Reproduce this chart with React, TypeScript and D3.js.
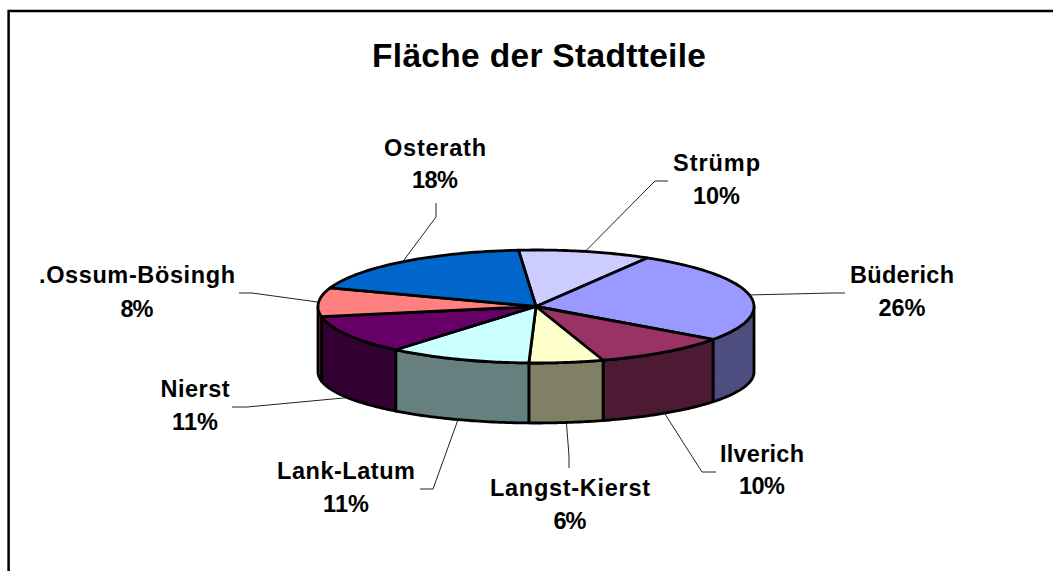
import React from "react";
import * as d3 from "d3";

const TITLE = "Fläche der Stadtteile";
const districts = ["Strümp", "Büderich", "Ilverich", "Langst-Kierst", "Lank-Latum", "Nierst", ".Ossum-Bösingh", "Osterath"];
const areaShares = [9.8, 26.4, 10.1, 5.5, 10.6, 11.0, 8.2, 18.4];
const topColors = ["#CCCCFF", "#9999FF", "#993366", "#FFFFCC", "#CCFFFF", "#660066", "#FF8080", "#0066CC"];
const wallColors = ["#66667F", "#4D4D80", "#4D1A33", "#808066", "#668080", "#330033", "#804040", "#003366"];

// label layout: centre x, name baseline, share baseline, name width, share width, leader start, elbow
const labelLayout: [number, number, number, number, number, [number, number], [number, number]][] = [
  [716.5, 171, 204, 87, 47, [668, 181], [655, 181]],
  [902, 283, 316, 104, 47, [845, 293], [832, 293]],
  [762, 462, 494, 84, 46, [716, 472], [702, 472]],
  [570, 496, 529, 160, 33, [569, 468], [569, 456]],
  [346, 479, 512, 138, 46, [420, 489], [433, 489]],
  [195, 397, 430, 69, 46, [232, 407], [247, 407]],
  [137, 283, 317, 196, 33, [239, 293], [252, 293]],
  [435, 156, 188, 102, 46, [436, 203], [436, 217]],
];

const W = 1053, H = 571;
const cx = 536, rx = 218;
const topCy = 306.5, topRy = 56.5;
const baseCy = 372, baseRy = 51;
const START = (-4.6 * Math.PI) / 180;

const pie = d3.pie<number>().sort(null).startAngle(START).endAngle(START + 2 * Math.PI);
const arcs = pie(areaShares);
const total = d3.sum(areaShares);
const fmt = d3.format(".0%");

const px = (a: number) => cx + rx * Math.sin(a);
const topPt = (a: number): [number, number] => [px(a), topCy - topRy * Math.cos(a)];
const basePt = (a: number): [number, number] => [px(a), baseCy - baseRy * Math.cos(a)];
const line = d3.line();

const sweep = (a0: number, a1: number, f: (a: number) => [number, number]) =>
  d3.range(0, 41).map((i) => f(a0 + ((a1 - a0) * i) / 40));

const wallPath = (a0: number, a1: number) => {
  const l = Math.max(a0, Math.PI / 2);
  const h = Math.min(a1, (3 * Math.PI) / 2);
  if (h <= l) return null;
  return line([...sweep(l, h, topPt), ...sweep(h, l, basePt)]) + "Z";
};

const anchor = (a: number) => {
  const n = ((a % (2 * Math.PI)) + 2 * Math.PI) % (2 * Math.PI);
  return n > Math.PI / 2 && n < (3 * Math.PI) / 2 ? basePt(n) : topPt(n);
};

const FONT = "'Liberation Sans', Arial, sans-serif";

export default function App() {
  return (
    <svg width={W} height={H} viewBox={`0 0 ${W} ${H}`} style={{ position: "absolute", left: 0, top: 0, background: "#fff" }}>
      <path d={`M8.6 ${H}V11H${W}`} fill="none" stroke="#000" strokeWidth={2.5} />
      <text x={539} y={67} textAnchor="middle" fontFamily={FONT} fontWeight="bold" fontSize={33.5} textLength={334} lengthAdjust="spacing" fill="#000">
        {TITLE}
      </text>
      {arcs.map((d, i) => {
        const [lx, nameY, pctY, nameW, pctW, start, elbow] = labelLayout[i];
        const mid = (d.startAngle + d.endAngle) / 2;
        return (
          <g key={districts[i]}>
            <path d={line([start, elbow, anchor(mid)]) as string} fill="none" stroke="#222" strokeWidth={1} />
            <text x={lx} y={nameY} textAnchor="middle" fontFamily={FONT} fontWeight="bold" fontSize={23.5} textLength={nameW} lengthAdjust="spacing" fill="#000">
              {districts[i]}
            </text>
            <text x={lx} y={pctY} textAnchor="middle" fontFamily={FONT} fontWeight="bold" fontSize={23.5} textLength={pctW} lengthAdjust="spacing" fill="#000">
              {fmt(d.value / total)}
            </text>
          </g>
        );
      })}
      {arcs.map((d, i) => {
        const p = wallPath(d.startAngle, d.endAngle);
        return p ? <path key={i} d={p} fill={wallColors[i]} stroke="#000" strokeWidth={2.8} strokeLinejoin="round" /> : null;
      })}
      {arcs.map((d, i) => (
        <path
          key={i}
          d={line([[cx, topCy], ...sweep(d.startAngle, d.endAngle, topPt)]) + "Z"}
          fill={topColors[i]}
          stroke="#000"
          strokeWidth={2.8}
          strokeLinejoin="round"
        />
      ))}
    </svg>
  );
}
